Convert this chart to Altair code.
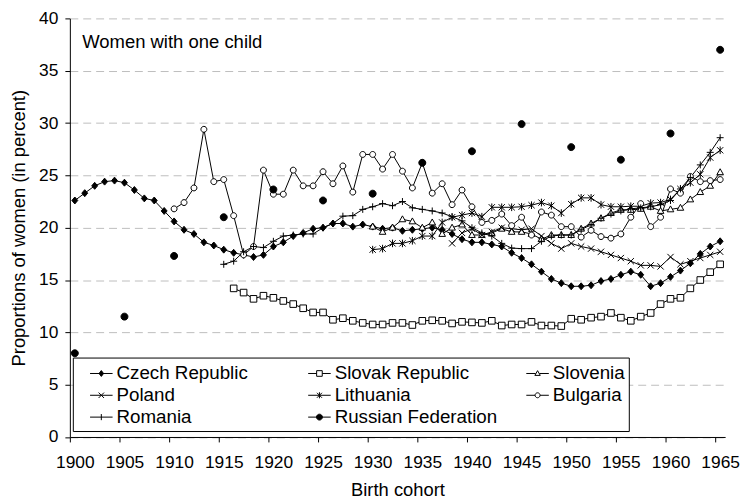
import altair as alt
import pandas as pd

years = list(range(1900, 1966))

czech = [22.6, 23.3, 24.0, 24.4, 24.5, 24.3, 23.6, 22.8, 22.6, 21.6,
         20.6, 19.8, 19.4, 18.6, 18.3, 17.9, 17.6, 17.4, 17.2, 17.4,
         18.2, 18.6, 19.2, 19.5, 19.9, 20.0, 20.4, 20.4, 20.1, 20.3,
         20.1, 19.9, 20.0, 19.7, 19.8, 19.9, 20.0, 19.8, 19.4, 18.9,
         18.6, 18.6, 18.4, 18.2, 17.6, 17.1, 16.5, 15.8, 15.1, 14.7,
         14.4, 14.4, 14.5, 14.9, 15.1, 15.5, 15.8, 15.5, 14.4, 14.7,
         15.3, 15.9, 16.6, 17.5, 18.2, 18.7]
slovak_start = 1916
slovak = [14.2, 13.8, 13.2, 13.5, 13.3, 13.0, 12.7, 12.3, 11.9, 11.9,
          11.2, 11.35, 11.1, 10.9, 10.75, 10.75, 10.9, 10.9, 10.7, 11.1,
          11.15, 11.1, 10.85, 11.0, 10.95, 10.9, 11.1, 10.65, 10.75, 10.75,
          11.0, 10.65, 10.65, 10.6, 11.3, 11.2, 11.4, 11.5, 11.85, 11.4,
          11.1, 11.5, 11.85, 12.7, 13.2, 13.3, 14.2, 15.0, 15.75, 16.5]
slovenia_start = 1930
slovenia = [20.1, 19.6, 20.0, 20.8, 20.6, 20.0, 20.5, 19.4, 20.0, 20.3,
            19.3, 19.3, 19.5, 19.9, 19.6, 19.6, 19.4, 18.9, 19.3, 19.3,
            19.3, 19.9, 20.4, 20.9, 21.4, 21.7, 21.7, 21.8, 22.0, 21.6,
            21.75, 21.9, 22.7, 23.4, 24.0, 25.3]
poland_start = 1938
poland = [18.5, 19.5, 19.9, 19.3, 19.6, 20.0, 19.9, 19.8, 19.9, 19.2,
          18.5, 18.0, 18.5, 18.2, 18.0, 17.7, 17.4, 17.1, 16.8, 16.4,
          16.4, 16.3, 17.2, 16.5, 16.8, 17.1, 17.4, 17.7]
lithuania_start = 1930
lithuania = [17.9, 18.0, 18.5, 18.5, 18.75, 19.2, 19.2, 20.5, 21.0, 21.2,
             21.4, 21.05, 21.95, 21.95, 21.95, 22.0, 22.15, 22.4, 22.1, 21.4,
             22.25, 22.85, 22.85, 22.2, 22.0, 22.0, 22.05, 22.05, 22.35, 22.4,
             22.7, 23.7, 24.3, 25.1, 26.7, 27.4]
bulgaria_start = 1910
bulgaria = [21.8, 22.4, 23.8, 29.4, 24.4, 24.6, 21.15, 17.4, 18.2, 25.5,
            23.2, 23.2, 25.5, 24.0, 24.0, 25.35, 24.2, 25.9, 23.4, 27.0,
            27.0, 25.6, 27.0, 25.4, 23.8, 26.2, 23.3, 24.2, 22.2, 23.6,
            22.0, 20.5, 20.7, 21.3, 20.2, 21.0, 19.3, 21.5, 21.2, 20.1,
            20.1, 19.1, 19.75, 19.15, 19.0, 19.4, 21.0, 22.3, 20.1, 21.0,
            23.7, 23.3, 24.9, 24.4, 24.5, 24.6]
romania_start = 1915
romania = [16.5, 16.8, 17.7, 18.2, 18.1,
           18.7, 19.2, 19.3, 19.4, 19.4, 20.0, 20.4, 21.1, 21.15, 21.75,
           22.0, 22.3, 22.1, 22.5, 21.9, 21.75, 21.6, 21.4, 21.05, 20.65,
           20.0, 19.5, 19.2, 18.5, 18.05, 18.0, 18.0, 18.7, 19.2, 19.3,
           19.3, 19.8, 20.3, 20.9, 21.3, 21.6, 21.8, 21.9, 22.0, 22.2,
           22.6, 23.7, 24.8, 26.0, 27.2, 28.6]
russia_years = [1900, 1905, 1910, 1915, 1920, 1925, 1930, 1935, 1940, 1945,
                1950, 1955, 1960, 1965]
russia = [8.0, 11.5, 17.3, 21.0, 23.65, 22.6, 23.25, 26.2, 27.3, 29.9,
          27.7, 26.5, 29.0, 37.0]

series_order = ["Czech Republic", "Slovak Republic", "Slovenia", "Poland",
                "Lithuania", "Bulgaria", "Romania", "Russian Federation"]
panel_title = ["Women with one child"]

rows = []
def add(name, start, vals):
    for i, v in enumerate(vals):
        rows.append({"year": start + i, "value": v, "series": name})

add("Czech Republic", 1900, czech)
add("Slovak Republic", slovak_start, slovak)
add("Slovenia", slovenia_start, slovenia)
add("Poland", poland_start, poland)
add("Lithuania", lithuania_start, lithuania)
add("Bulgaria", bulgaria_start, bulgaria)
add("Romania", romania_start, romania)
for y, v in zip(russia_years, russia):
    rows.append({"year": y, "value": v, "series": "Russian Federation"})
df = pd.DataFrame(rows)

point_shapes = [
    "M0,-1L0.85,0L0,1L-0.85,0Z",
    "M-0.95,-0.95H0.95V0.95H-0.95Z",
    "M0,-1L0.95,0.7L-0.95,0.7Z",
    "M-0.9,-0.9L0.9,0.9M-0.9,0.9L0.9,-0.9",
    "M-0.9,-0.9L0.9,0.9M-0.9,0.9L0.9,-0.9M0,-1.1V1.1",
    "M0.85,0A0.85,0.85,0,1,1,-0.85,0A0.85,0.85,0,1,1,0.85,0Z",
    "M-1,0H1M0,-1V1",
    "M1,0A1,1,0,1,1,-1,0A1,1,0,1,1,1,0Z",
]
legend_shapes = [
    "M-1,0H1M0,-0.26L0.2,0L0,0.26L-0.2,0Z",
    "M-1,0H-0.25M0.25,0H1M-0.25,-0.25H0.25V0.25H-0.25Z",
    "M-1,0H-0.17M0.17,0H1M0,-0.25L0.24,0.17L-0.24,0.17Z",
    "M-1,0H1M-0.24,-0.24L0.24,0.24M-0.24,0.24L0.24,-0.24",
    "M-1,0H1M-0.22,-0.22L0.22,0.22M-0.22,0.22L0.22,-0.22M0,-0.27V0.27",
    "M-1,0H-0.22M0.22,0H1M0.22,0A0.22,0.22,0,1,1,-0.22,0A0.22,0.22,0,1,1,0.22,0Z",
    "M-1,0H1M0,-0.27V0.27",
    "M-1,0H1M0.26,0A0.26,0.26,0,1,1,-0.26,0A0.26,0.26,0,1,1,0.26,0Z",
]
fills = ["black", "white", "white", "transparent", "transparent", "white",
         "transparent", "black"]

FONT = "Liberation Sans"
W, H = 660, 421.6

x_enc = alt.X("year:Q", scale=alt.Scale(domain=[1899.5, 1965.5], nice=False, zero=False),
              axis=alt.Axis(values=list(range(1900, 1966, 5)), format="d", title="Birth cohort",
                            grid=False, tickOffset=-5, labelOffset=5,
                            tickSize=5, tickColor="black", domainColor="black",
                            labelFontSize=17.5, labelFont=FONT, labelColor="black",
                            labelPadding=11.7, labelFlush=False,
                            titleFontSize=18.5, titleFont=FONT, titleColor="black",
                            titleFontWeight="normal", titleY=53, titleBaseline="middle"))
y_enc = alt.Y("value:Q", scale=alt.Scale(domain=[0, 40], nice=False),
              axis=alt.Axis(values=list(range(0, 41, 5)), title="Proportions of women (in percent)",
                            grid=True, gridDash=[8, 5], gridColor="#bdbdbd", gridWidth=1,
                            tickSize=5, tickColor="black", domainColor="black",
                            labelFontSize=17.5, labelFont=FONT, labelColor="black",
                            labelPadding=7, titleFontSize=18.5, titleFont=FONT,
                            titleColor="black", titleFontWeight="normal",
                            titleX=-52, titleY=H / 2, titleBaseline="middle",
                            titleAlign="center", titleAngle=270))

lines = alt.Chart(df).transform_filter(
    alt.datum.series != "Russian Federation"
).mark_line(color="black", strokeWidth=1).encode(
    x=x_enc, y=y_enc, detail="series:N"
)

points = alt.Chart(df).mark_point(filled=True, stroke="black", strokeWidth=1,
                                  size=49, opacity=1).encode(
    x="year:Q", y="value:Q",
    shape=alt.Shape("series:N", scale=alt.Scale(domain=series_order, range=point_shapes), legend=None),
    fill=alt.Fill("series:N", scale=alt.Scale(domain=series_order, range=fills), legend=None),
)

leg = alt.Legend(title=None, orient="none", legendX=3, legendY=341.6, columns=3,
                 direction="horizontal",
                 gridAlign="all", columnPadding=15.7, rowPadding=0, padding=4,
                 strokeColor="black", fillColor="white", labelFont=FONT,
                 labelFontSize=18.9, labelColor="black", symbolSize=515,
                 symbolStrokeWidth=1, symbolOpacity=1,
                 symbolOffset=12.7, labelOffset=3.3,
                 labelLimit=400)

legend_layer = alt.Chart(df).transform_filter("false").mark_point(
    filled=True, stroke="black", strokeWidth=1, opacity=1
).encode(
    shape=alt.Shape("series:N", scale=alt.Scale(domain=series_order, range=legend_shapes), legend=leg),
    fill=alt.Fill("series:N", scale=alt.Scale(domain=series_order, range=fills), legend=leg),
)

title_df = pd.DataFrame({"label": panel_title})
title_text = alt.Chart(title_df).mark_text(
    align="left", baseline="alphabetic", font=FONT, fontSize=18.6, color="black"
).encode(x=alt.value(12.4), y=alt.value(30), text="label:N")

chart = alt.layer(lines, points, legend_layer, title_text).resolve_scale(
    shape="independent", fill="independent"
).properties(
    width=W, height=H,
    padding={"left": 62.3, "top": 8.7, "right": 16, "bottom": 62},
    autosize="none",
).configure_view(stroke=None)

chart.save("out.html", embed_options={"renderer": "svg", "actions": False})
